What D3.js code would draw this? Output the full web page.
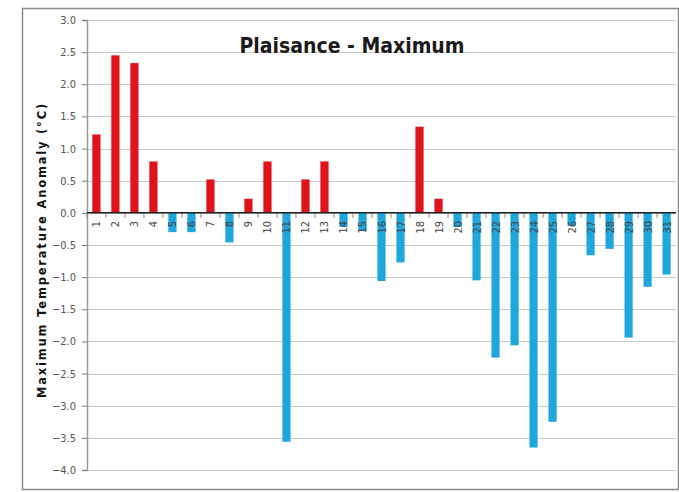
<!DOCTYPE html>
<html>
<head>
<meta charset="utf-8">
<script src="https://d3js.org/d3.v7.min.js"></script>
<style>
  body { margin: 0; background: #fff; }
  svg { display: block; }
</style>
</head>
<body>
<div id="chart"></div>
<script>
const days = d3.range(1, 32).map(String);
const anomaly = [
    1.22, 2.45, 2.33, 0.80, -0.30, -0.30, 0.52, -0.46, 0.22, 0.80,
    -3.56, 0.52, 0.80, -0.22, -0.28, -1.06, -0.77, 1.34, 0.22, -0.22,
    -1.05, -2.25, -2.06, -3.65, -3.25, -0.20, -0.66, -0.56, -1.94, -1.15,
    -0.96
];
const yTicks = d3.range(-4, 3.01, 0.5);

const W = 679, H = 492;
const margin = {left: 87, right: 3, top: 20, bottom: 22};
const font = "'DejaVu Sans Condensed', 'Liberation Sans Narrow', sans-serif";

const svg = d3.select("#chart").append("svg")
    .attr("width", W)
    .attr("height", H);

// outer frame
svg.append("rect")
    .attr("x", 22.5).attr("y", 8.5)
    .attr("width", 656).attr("height", 481)
    .attr("fill", "#fff")
    .attr("stroke", "#8a8a8a")
    .attr("stroke-width", 1.5);

const x = d3.scaleBand()
    .domain(days)
    .range([margin.left, W - margin.right])
    .paddingInner(0.57)
    .paddingOuter(0.28);

const y = d3.scaleLinear()
    .domain([-4, 3])
    .range([470, 20]);

// gridlines
svg.append("g")
    .selectAll("line")
    .data(yTicks)
    .join("line")
    .attr("x1", margin.left)
    .attr("x2", W - margin.right)
    .attr("y1", d => Math.round(y(d)) + 0.5)
    .attr("y2", d => Math.round(y(d)) + 0.5)
    .attr("stroke", "#c8c8c8")
    .attr("stroke-width", 1.2);

// y axis
const yAxis = d3.axisLeft(y)
    .tickValues(yTicks)
    .tickFormat(d3.format(".1f"))
    .tickSize(5)
    .tickPadding(6);

const gy = svg.append("g")
    .attr("transform", `translate(${margin.left},0)`)
    .call(yAxis);
gy.select(".domain").attr("stroke", "#9a9a9a").attr("stroke-width", 1.5);
gy.selectAll(".tick line").attr("stroke", "#777");
gy.selectAll(".tick text")
    .attr("font-family", font)
    .attr("font-size", 11)
    .attr("fill", "#555");

// bars
svg.append("g")
    .selectAll("rect")
    .data(anomaly)
    .join("rect")
    .attr("x", (d, i) => x(days[i]))
    .attr("width", x.bandwidth())
    .attr("y", d => y(Math.max(0, d)))
    .attr("height", d => Math.abs(y(d) - y(0)))
    .attr("fill", d => d >= 0 ? "#e0121b" : "#1fa6dc");

// zero line with category ticks
const step = x.step();
svg.append("g")
    .selectAll("line")
    .data(days)
    .join("line")
    .attr("x1", d => x(d) - (step - x.bandwidth()) / 2)
    .attr("x2", d => x(d) - (step - x.bandwidth()) / 2)
    .attr("y1", y(0))
    .attr("y2", y(0) + 5)
    .attr("stroke", "#888");

svg.append("line")
    .attr("x1", margin.left)
    .attr("x2", W - margin.right)
    .attr("y1", y(0))
    .attr("y2", y(0))
    .attr("stroke", "#222")
    .attr("stroke-width", 1.5);

// category labels, rotated
svg.append("g")
    .selectAll("text")
    .data(days)
    .join("text")
    .attr("transform", d => `translate(${x(d) + x.bandwidth() / 2 + 4},${y(0) + 8}) rotate(-90)`)
    .attr("text-anchor", "end")
    .attr("font-family", font)
    .attr("font-size", 11)
    .attr("fill", "#444")
    .text(d => d);

// title
svg.append("text")
    .attr("x", 352)
    .attr("y", 53)
    .attr("text-anchor", "middle")
    .attr("font-family", font)
    .attr("font-weight", "bold")
    .attr("font-size", 21)
    .attr("fill", "#1a1a1a")
    .text("Plaisance - Maximum");

// y label
svg.append("text")
    .attr("transform", "translate(46,250) rotate(-90)")
    .attr("text-anchor", "middle")
    .attr("font-family", "'DejaVu Sans', sans-serif")
    .attr("font-weight", "bold")
    .attr("font-size", 11.5)
    .attr("letter-spacing", 1.8)
    .attr("fill", "#111")
    .text("Maximum Temperature Anomaly (°C)");
</script>
</body>
</html>
